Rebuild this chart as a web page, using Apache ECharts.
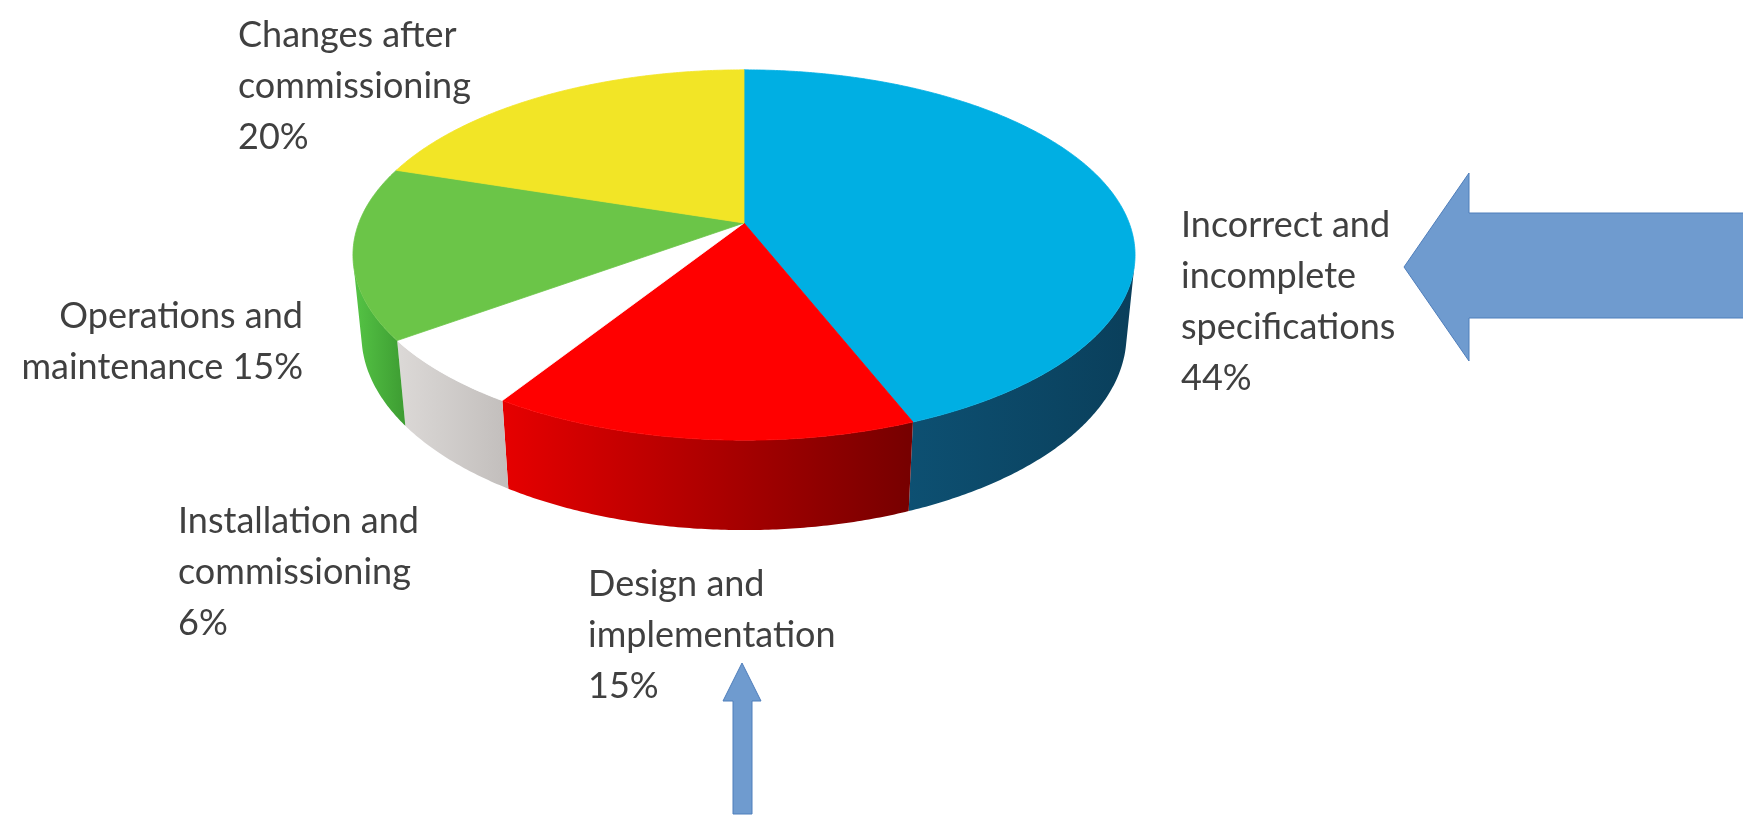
<!DOCTYPE html>
<html>
<head>
<meta charset="utf-8">
<title>Sources of failures</title>
<script src="https://cdn.jsdelivr.net/npm/echarts@6/dist/echarts.min.js"></script>
<style>
  html, body { margin: 0; padding: 0; background: #ffffff; }
  #chart { width: 1743px; height: 822px; }
</style>
</head>
<body>
<div id="chart"></div>
<script>
// Slice names and their shares (percent), clockwise from 12 o'clock
const categories = [
  'Incorrect and incomplete specifications',
  'Design and implementation',
  'Installation and commissioning',
  'Operations and maintenance',
  'Changes after commissioning'
];
const shares = [44, 15, 6, 15, 20];

// Colours of the top faces and of the visible rims (left -> right shade)
const topColors = ['#00AFE3', '#FF0000', '#FFFFFF', '#6BC548', '#F2E526'];
const rimColors = [
  ['#0d5072', '#0a3f5b'],
  ['#e60000', '#760000'],
  ['#dcd9d7', '#c2bebc'],
  ['#55c445', '#3d9c32'],
  ['#d8cf1f', '#b8ae10']
];

// Label placement: anchor x, centre of the first line, alignment,
// words per line of the name, separator before the percentage
const labelLayout = [
  { x: 1181, y: 224, align: 'left',  words: [2, 1, 1], sep: '\n' },
  { x: 588,  y: 583, align: 'left',  words: [2, 1],    sep: '\n' },
  { x: 178,  y: 520, align: 'left',  words: [2, 1],    sep: '\n' },
  { x: 303,  y: 315, align: 'right', words: [2, 1],    sep: ' '  },
  { x: 238,  y: 34,  align: 'left',  words: [2, 1],    sep: '\n' }
];
const LINE_HEIGHT = 51;
const LABEL_FONT = '36px Lato';

// Perspective view of the disc (radius 1) and its thickness
const VIEW = {
  cx: 744, cy: 223,
  focal: 1970,
  dist: 5.115,
  tilt: 27.8 * Math.PI / 180,
  thickness: 0.2378
};

function project(theta, y) {
  const x = Math.sin(theta), z = Math.cos(theta);
  const s = Math.sin(VIEW.tilt), c = Math.cos(VIEW.tilt);
  const v = y * c + z * s;
  const w = VIEW.dist + z * c - y * s;
  return [VIEW.cx + VIEW.focal * x / w, VIEW.cy - VIEW.focal * v / w];
}

function arc(a, b, y) {
  const pts = [];
  const n = Math.max(2, Math.ceil((b - a) / (Math.PI / 360)));
  for (let k = 0; k <= n; k++) pts.push(project(a + (b - a) * k / n, y));
  return pts;
}

// Range of angles whose rim faces the viewer
const visLimit = Math.acos(-1 / (VIEW.dist * Math.cos(VIEW.tilt)));
const visStart = visLimit, visEnd = 2 * Math.PI - visLimit;

function wrapName(name, words) {
  const parts = name.split(' ');
  const lines = [];
  let k = 0;
  words.forEach(function (n) { lines.push(parts.slice(k, k + n).join(' ')); k += n; });
  if (k < parts.length) lines[lines.length - 1] += ' ' + parts.slice(k).join(' ');
  return lines.join('\n');
}

const total = shares.reduce(function (s, v) { return s + v; }, 0);

function renderItem(params, api) {
  const i = params.dataIndex;
  const value = api.value(0);
  let before = 0;
  for (let k = 0; k < i; k++) before += shares[k];
  const a = before / total * 2 * Math.PI;
  const b = (before + value) / total * 2 * Math.PI;

  const children = [];

  // visible rim of the slice
  const s = Math.max(a, visStart), e = Math.min(b, visEnd);
  if (e > s) {
    const topEdge = arc(s, e, 0);
    const bottomEdge = arc(s, e, -VIEW.thickness).reverse();
    children.push({
      type: 'polygon',
      shape: { points: topEdge.concat(bottomEdge) },
      style: {
        fill: new echarts.graphic.LinearGradient(0, 0, 1, 0, [
          { offset: 0, color: rimColors[i][0] },
          { offset: 1, color: rimColors[i][1] }
        ]),
        stroke: null
      }
    });
  }

  // top face
  const face = [[VIEW.cx, VIEW.cy]].concat(arc(a, b, 0));
  children.push({
    type: 'polygon',
    shape: { points: face },
    style: { fill: topColors[i], stroke: topColors[i], lineWidth: 0.8 }
  });

  // label: name + percentage
  const lay = labelLayout[i];
  const text = wrapName(categories[i], lay.words) + lay.sep + value + '%';
  const nLines = text.split('\n').length;
  children.push({
    type: 'text',
    z2: 10,
    style: {
      text: text,
      x: lay.x,
      y: lay.y + 1 + (nLines - 1) * LINE_HEIGHT / 2,
      font: LABEL_FONT,
      fill: '#404040',
      align: lay.align,
      verticalAlign: 'middle',
      lineHeight: LINE_HEIGHT
    }
  });

  return { type: 'group', children: children };
}

const chart = echarts.init(document.getElementById('chart'), null, { renderer: 'canvas' });

const arrowStyle = { fill: '#6F9BCF', stroke: '#4F7EBB', lineWidth: 1 };

chart.setOption({
  animation: false,
  backgroundColor: '#ffffff',
  series: [{
    type: 'custom',
    coordinateSystem: 'none',
    renderItem: renderItem,
    data: shares.map(function (v, i) { return { name: categories[i], value: [v] }; })
  }],
  graphic: [
    {
      type: 'polygon',
      shape: { points: [[1404, 267], [1469, 173], [1469, 213], [1745, 213], [1745, 318], [1469, 318], [1469, 361]] },
      style: arrowStyle
    },
    {
      type: 'polygon',
      shape: { points: [[742, 663], [761, 701], [752, 701], [752, 814], [733, 814], [733, 701], [723, 701]] },
      style: arrowStyle
    }
  ]
});
</script>
</body>
</html>
